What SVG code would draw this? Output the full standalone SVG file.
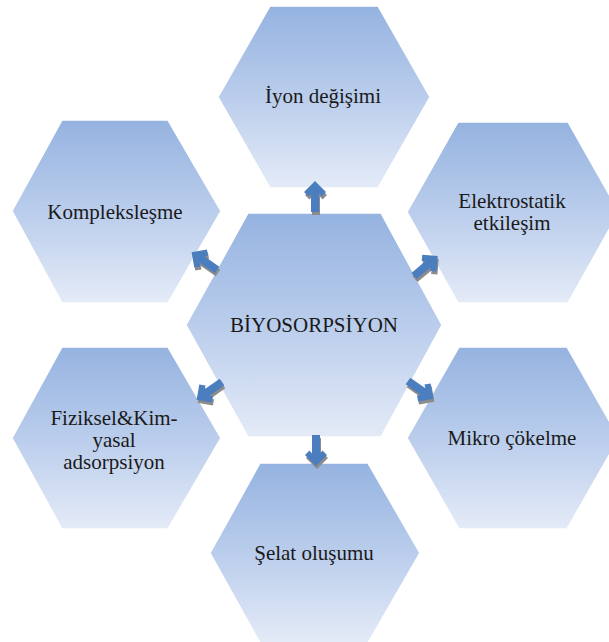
<svg xmlns="http://www.w3.org/2000/svg" xmlns:xlink="http://www.w3.org/1999/xlink" width="609" height="642" viewBox="0 0 609 642">
<defs>
<linearGradient id="hexGrad" x1="0" y1="0" x2="0" y2="1">
<stop offset="0" stop-color="#95B3E0"/>
<stop offset="0.5" stop-color="#BACDEC"/>
<stop offset="1" stop-color="#E4EBF7"/>
</linearGradient>
<polygon id="arr" points="31,0 20,-11 15.5,-6.5 18.5,-4 0,-4 0,4 18.5,4 15.5,6.5 20,11"/>
</defs>
<style>
.hex{fill:url(#hexGrad);stroke:#FFFFFF;stroke-width:1.5}
.lbl{font-size:21px;fill:#1A1A1A;text-anchor:middle}
.ar{fill:#4A7EBF}
.sh{fill:#8C8C8C}
</style>
<rect width="609" height="642" fill="#FFFFFF"/>
<g font-family="Liberation Serif, Times New Roman, serif">
<g id="node-center">
<polygon class="hex" points="186,325 248,213 381,213 442,325 381,437 248,437"/>
<text class="lbl" x="314" y="332">BİYOSORPSİYON</text>
</g>
<g id="node-iyon">
<polygon class="hex" points="218,97 270,6 378,6 430,97 378,188 270,188"/>
<text class="lbl" x="323" y="103">İyon değişimi</text>
</g>
<g id="node-kompleks">
<polygon class="hex" points="12,211 62,120 168,120 221,211 168,303 62,303"/>
<text class="lbl" x="115" y="219">Kompleksleşme</text>
</g>
<g id="node-elektro">
<polygon class="hex" points="407,212 458,122 568,122 619,212 568,303 458,303"/>
<text class="lbl" x="512" y="208">Elektrostatik</text>
<text class="lbl" x="512" y="230">etkileşim</text>
</g>
<g id="node-fiziksel">
<polygon class="hex" points="12,438 62,347 168,347 221,438 168,529 62,529"/>
<text class="lbl" x="114" y="425">Fiziksel&amp;Kim-</text>
<text class="lbl" x="114" y="447">yasal</text>
<text class="lbl" x="114" y="469">adsorpsiyon</text>
</g>
<g id="node-mikro">
<polygon class="hex" points="407,438 459,347 567,347 619,438 567,529 459,529"/>
<text class="lbl" x="512" y="445">Mikro çökelme</text>
</g>
<g id="node-selat">
<polygon class="hex" points="210,553 260,463 368,463 420,553 368,643 260,643"/>
<text class="lbl" x="314" y="560">Şelat oluşumu</text>
</g>
</g>
<g id="connectors">
<use xlink:href="#arr" class="sh" transform="translate(316,215) rotate(-90)"/>
<use xlink:href="#arr" class="ar" transform="translate(315,212) rotate(-90)"/>
<use xlink:href="#arr" class="sh" transform="translate(218,273) rotate(-145)"/>
<use xlink:href="#arr" class="ar" transform="translate(217,270) rotate(-145)"/>
<use xlink:href="#arr" class="sh" transform="translate(415,279) rotate(-40)"/>
<use xlink:href="#arr" class="ar" transform="translate(414,276) rotate(-40)"/>
<use xlink:href="#arr" class="sh" transform="translate(223,385) rotate(145)"/>
<use xlink:href="#arr" class="ar" transform="translate(222,382) rotate(145)"/>
<use xlink:href="#arr" class="sh" transform="translate(409,384) rotate(35)"/>
<use xlink:href="#arr" class="ar" transform="translate(408,381) rotate(35)"/>
<use xlink:href="#arr" class="sh" transform="translate(317,438) rotate(90)"/>
<use xlink:href="#arr" class="ar" transform="translate(316,435) rotate(90)"/>
</g>
</svg>
